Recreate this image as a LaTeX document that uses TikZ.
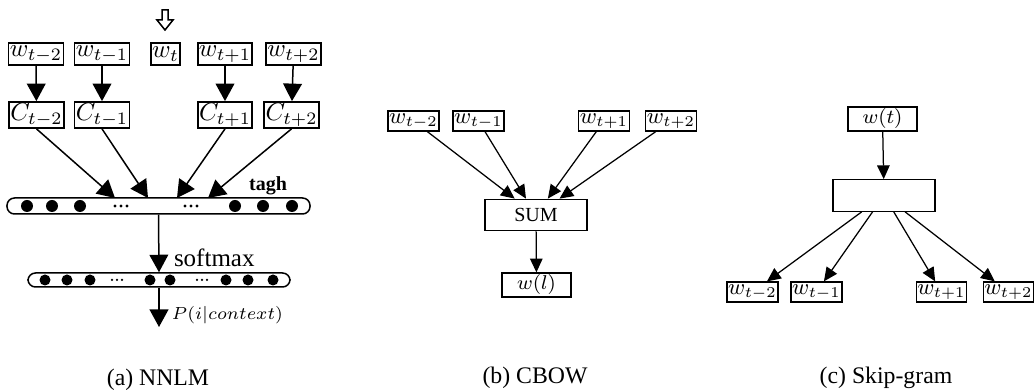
\documentclass[tikz,border=0pt]{standalone}
\usepackage{fontspec}
\setmainfont{Liberation Serif}
\usepackage{tikz}
\usetikzlibrary{arrows.meta, positioning, calc}

\begin{document}
\begin{tikzpicture}[
    x=0.4pt, y=-0.4pt,
    nword/.style={draw, line width=0.7pt, inner sep=0.5pt, minimum width=19.2pt, minimum height=8.8pt},
    cvec/.style={draw, line width=0.7pt, inner sep=0.5pt, minimum width=18.8pt, minimum height=10.4pt},
    sword/.style={draw, line width=0.5pt, inner sep=0.5pt, minimum width=18.8pt, minimum height=8pt, font=\small},
    wide/.style={draw, line width=0.5pt, minimum width=40.8pt, minimum height=12.6pt, font=\footnotesize},
    target/.style={draw, line width=0.5pt, inner sep=0.5pt, minimum width=27.6pt, minimum height=9.6pt, font=\footnotesize},
    layer/.style={draw, line width=0.6pt, rounded corners=3pt, inner sep=0pt},
    unit/.style={circle, fill, inner sep=0pt, minimum size=4.8pt},
    tiny/.style={circle, fill, inner sep=0pt, minimum size=1pt},
    bigarrow/.style={-{Triangle[length=7pt,width=7.5pt]}, line width=0.6pt},
    arrow/.style={-{Triangle[length=5.5pt,width=5pt]}, line width=0.5pt},
    caption/.style={font=\fontsize{9.5}{11}\selectfont}
]
    \useasboundingbox (0,0) rectangle (1034,392);

    % NNLM: input words
    \draw[line width=0.6pt] (162,10) -- (168,10) -- (168,20) -- (173,20) -- (165,30) -- (157,20) -- (162,20) -- cycle;
    \node[nword] (wA) at (36,54) {$w_{t-2}$};
    \node[nword] (wB) at (102,54) {$w_{t-1}$};
    \node[nword, minimum width=10pt] (wT) at (165.5,54) {$w_t$};
    \node[nword] (wC) at (225,54) {$w_{t+1}$};
    \node[nword] (wD) at (293.5,54) {$w_{t+2}$};

    % NNLM: projections
    \node[cvec] (cA) at (36.5,115) {$C_{t-2}$};
    \node[cvec] (cB) at (102,115) {$C_{t-1}$};
    \node[cvec] (cC) at (225,115) {$C_{t+1}$};
    \node[cvec] (cD) at (291.5,115) {$C_{t+2}$};
    \foreach \n in {A,B,C,D}
        \draw[bigarrow] (w\n) -- (c\n);

    % NNLM: tanh layer
    \node[layer, minimum width=121.2pt, minimum height=6.4pt] (tagh) at (158.5,206) {};
    \foreach \x [count=\i] in {27,52,80,235,263,292}
        \node[unit] (h\i) at (\x,206) {};
    \foreach \x [count=\i] in {115,121,127,185,191,197}
        \node[tiny, minimum size=1.3pt] (hd\i) at (\x,206) {};
    \node[font=\footnotesize\bfseries] (taghlbl) at (268,186) {tagh};
    \coordinate (inA) at (115,198);
    \coordinate (inB) at (148,198);
    \coordinate (inC) at (177,198);
    \coordinate (inD) at (208,198);
    \foreach \n in {A,B,C,D}
        \draw[bigarrow] (c\n.south) -- (in\n);

    % NNLM: softmax layer
    \node[layer, minimum width=104.8pt, minimum height=5.6pt] (soft) at (159,280) {};
    \foreach \x [count=\i] in {45,67,90,150,170,226,248,273}
        \node[unit, minimum size=4.4pt] (o\i) at (\x,280) {};
    \foreach \x [count=\i] in {112,117,122,197,202,207}
        \node[tiny] (od\i) at (\x,280) {};
    \draw[bigarrow] (tagh.south) -- (soft.north);
    \node[anchor=base west, inner sep=1pt] (softlbl) at (171,267) {softmax};
    \coordinate (out) at (159,327);
    \draw[bigarrow] (soft.south) -- (out);
    \node[anchor=west, font=\scriptsize] (prob) at (163,315) {$P(i|context)$};
    \node[caption] (capA) at (158,380) {(a) NNLM};

    % CBOW
    \node[sword] (cbA) at (413.5,121) {$w_{t-2}$};
    \node[sword] (cbB) at (478.5,121) {$w_{t-1}$};
    \node[sword] (cbC) at (604,121) {$w_{t+1}$};
    \node[sword] (cbD) at (671,121) {$w_{t+2}$};
    \node[wide] (sum) at (536,215) {SUM};
    \node[target] (wl) at (536.5,285) {$w(l)$};
    \foreach \n in {A,B,C,D}
        \draw[arrow] (cb\n) -- (sum);
    \draw[arrow] (sum) -- (wl);
    \node[caption] (capB) at (535,378) {(b) CBOW};

    % Skip-gram
    \node[target] (wt) at (882.5,119) {$w(t)$};
    \node[wide] (hid) at (884,195.5) {};
    \node[sword] (skA) at (752.5,292) {$w_{t-2}$};
    \node[sword] (skB) at (816.5,292) {$w_{t-1}$};
    \node[sword] (skC) at (941.5,292) {$w_{t+1}$};
    \node[sword] (skD) at (1008.5,292) {$w_{t+2}$};
    \draw[arrow] (wt) -- (hid);
    \foreach \n in {A,B,C,D}
        \draw[arrow] (hid) -- (sk\n);
    \node[caption] (capC) at (886,378) {(c) Skip-gram};
\end{tikzpicture}
\end{document}
